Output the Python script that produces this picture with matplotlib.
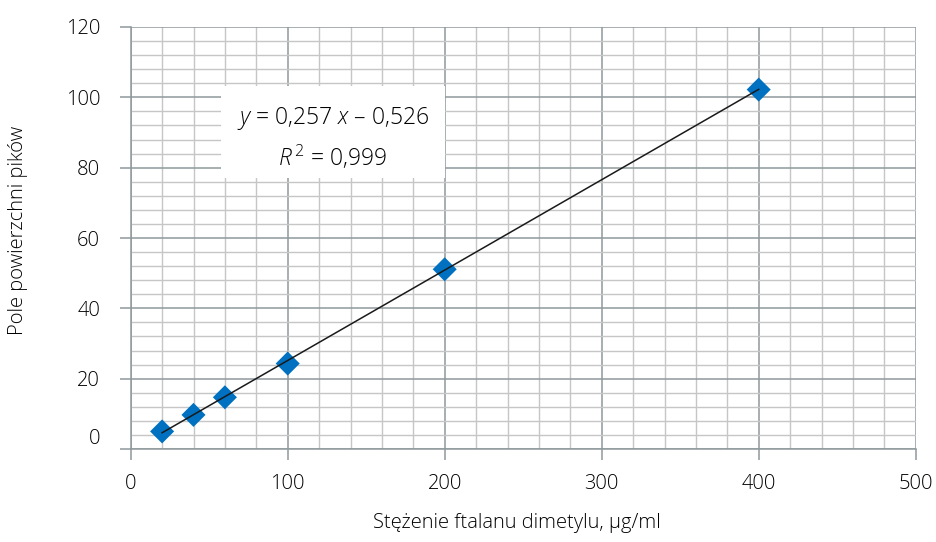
import matplotlib
matplotlib.use("Agg")
import matplotlib.pyplot as plt
import matplotlib.transforms as mtrans
from matplotlib.patches import Rectangle
import numpy as np

conc = [20, 40, 60, 100, 200, 400]
area = [5.0, 9.7, 14.7, 24.3, 51.1, 102.2]
slope, intercept = 0.257, -0.526
xticks = [0, 100, 200, 300, 400, 500]
yticks = [0, 20, 40, 60, 80, 100, 120]

plt.rcParams['font.family'] = ['Open Sans', 'DejaVu Sans']
plt.rcParams['font.weight'] = 'light'
plt.rcParams['mathtext.fontset'] = 'custom'
plt.rcParams['mathtext.it'] = 'Open Sans:italic:light'
plt.rcParams['mathtext.rm'] = 'Open Sans:light'

fig = plt.figure(figsize=(9.36, 5.42), dpi=100)
ax = fig.add_axes([130.7/936, (542-449)/542, (915.7-130.7)/936, (449-27)/542])
ax.set_xlim(0, 500)
ax.set_ylim(0, 120)

ax.set_xticks(xticks)
ax.set_yticks(yticks)
ax.set_xticks(np.arange(0, 501, 20), minor=True)
ax.set_yticks(np.arange(0, 121, 4), minor=True)
ax.grid(which='minor', color='#c6c6c6', lw=1.0)
ax.grid(which='major', color='#8f999c', lw=1.1)
ax.set_axisbelow(True)
for s in ['top', 'right']:
    ax.spines[s].set_visible(False)
for s in ['left', 'bottom']:
    ax.spines[s].set_color('#8f999c')
    ax.spines[s].set_linewidth(1.1)
ax.tick_params(which='major', length=8, color='#8f999c', width=1.1, labelsize=14.5, labelcolor='#000000')
ax.tick_params(which='minor', length=0)
ax.tick_params(axis='y', pad=14)
ax.tick_params(axis='x', pad=10)

# the "0" label on the y axis sits a little above its gridline in the reference
lbl0 = ax.get_yticklabels()[0]
lbl0.set_transform(lbl0.get_transform() + mtrans.ScaledTranslation(0, 12/100, fig.dpi_scale_trans))

xs = np.array([conc[0], conc[-1]])
ax.plot(xs, slope * xs + intercept, color='#1a1a1a', lw=1.1, zorder=3)
ax.scatter(conc, area, marker='D', s=150, color='#0070c0', zorder=2, edgecolors='none')

ax.add_patch(Rectangle((57.5, 77.0), 142.7, 26.2, fc='white', ec='none', zorder=1.5))
ax.text(128.8, 94.1, '$y$ = 0,257 $x$ – 0,526', ha='center', va='center',
        fontsize=16.5, color='#000000', zorder=4)
ax.text(128.8, 82.7, '$R^{\\,2}$ = 0,999', ha='center', va='center',
        fontsize=16.5, color='#000000', zorder=4)

fig.text(517/936, 1 - 523/542, 'Stężenie ftalanu dimetylu, µg/ml', ha='center', va='center', fontsize=14.5, color='#000000')
fig.text(18/936, 1 - 230/542, 'Pole powierzchni pików', rotation=90, ha='center', va='center', fontsize=14.5, color='#000000')

fig.savefig('out.png', dpi=100)
